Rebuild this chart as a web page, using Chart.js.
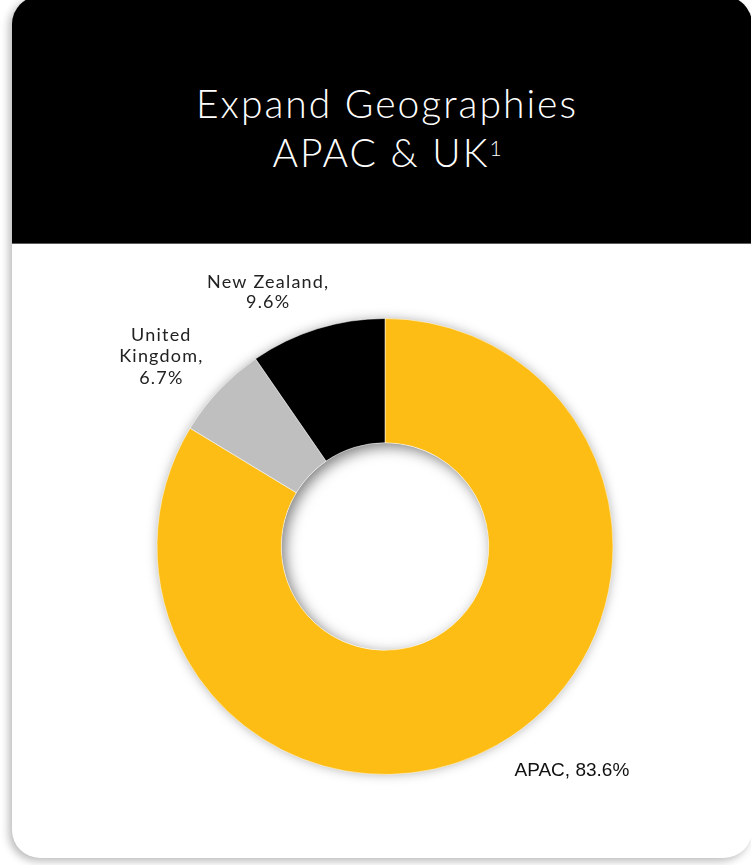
<!DOCTYPE html>
<html>
<head>
<meta charset="utf-8">
<script src="https://cdn.jsdelivr.net/npm/chart.js@4.4.1/dist/chart.umd.min.js"></script>
<style>
  html, body { margin: 0; padding: 0; background: #fff; overflow: hidden; }
  body { width: 751px; height: 865px; position: relative; }
  .carte {
    position: absolute; left: 12px; top: -4px; width: 740px; height: 862px;
    background: #fff; border-radius: 28px; overflow: hidden;
    box-shadow: -3px 3px 9px rgba(0,0,0,0.28);
  }
  .entete {
    position: absolute; left: 0; top: 0; width: 100%; height: 247px;
    background: #000; border-bottom: 1px solid #5a5a5a;
  }
  .titre {
    position: absolute; left: 10px; right: 0; top: 83px;
    color: #fff; text-align: center;
    font-family: "Lato", sans-serif; font-weight: 300; font-size: 39px;
    line-height: 49px; letter-spacing: 2px;
  }
  .titre .exp { font-size: 21px; position: relative; top: -11px; line-height: 0; letter-spacing: 0; }
  #graphique-geo { position: absolute; left: 0; top: 248px; }
</style>
</head>
<body>
<div class="carte">
  <div class="entete">
    <div class="titre">Expand Geographies<br>APAC &amp; UK<span class="exp">1</span></div>
  </div>
  <canvas id="graphique-geo" width="740" height="614"></canvas>
</div>
<script>
const categories = ["APAC", "United Kingdom", "New Zealand"];
const parts = [83.6, 6.7, 9.6];
const couleurs = ["#FDBD14", "#BFBFBF", "#000000"];

// placement des étiquettes autour de l'anneau
const etiquettes = [
  { dx: 2, dy: -2.5, align: "left", police: "19px 'Liberation Sans', Arial, sans-serif", couleur: "#111", interligne: 21, spacing: "0px" },
  { dx: -34.5, dy: -11.8, align: "center", police: "18px Lato, sans-serif", couleur: "#222", interligne: 21.5, spacing: "1.2px" },
  { dx: -39.5, dy: -5.8, align: "center", police: "18px Lato, sans-serif", couleur: "#222", interligne: 20, spacing: "1.2px" }
];

function lignesEtiquette(i) {
  const nom = categories[i], val = parts[i].toFixed(1) + "%";
  if (i === 0) return [nom + ", " + val];
  const mots = nom.split(" ");
  if (mots.length > 1 && nom.length > 12) return [...mots.slice(0, -1), mots[mots.length - 1] + ",", val];
  return [nom + ",", val];
}

const ombreAnneau = {
  id: "ombreAnneau",
  beforeDatasetsDraw(chart) {
    const arc = chart.getDatasetMeta(0).data[0];
    if (!arc) return;
    const ctx = chart.ctx;
    const { x, y, outerRadius, innerRadius } = arc.getProps(["x", "y", "outerRadius", "innerRadius"], true);
    // ombre portée autour de l'anneau
    ctx.save();
    ctx.shadowColor = "rgba(0,0,0,0.35)";
    ctx.shadowBlur = 12;
    ctx.fillStyle = "#fff";
    ctx.beginPath();
    ctx.arc(x, y, outerRadius - 1, 0, Math.PI * 2);
    ctx.fill();
    ctx.restore();
    // ombre intérieure du trou
    ctx.save();
    ctx.beginPath();
    ctx.arc(x, y, innerRadius, 0, Math.PI * 2);
    ctx.clip();
    ctx.shadowColor = "rgba(0,0,0,0.5)";
    ctx.shadowBlur = 14;
    ctx.shadowOffsetX = 4;
    ctx.shadowOffsetY = 4;
    ctx.fillStyle = "#fff";
    ctx.beginPath();
    ctx.arc(x, y, innerRadius + 40, 0, Math.PI * 2);
    ctx.arc(x, y, innerRadius, 0, Math.PI * 2, true);
    ctx.fill();
    ctx.restore();
  }
};

const etiquettesAnneau = {
  id: "etiquettesAnneau",
  afterDatasetsDraw(chart) {
    const ctx = chart.ctx;
    chart.getDatasetMeta(0).data.forEach((arc, i) => {
      const p = arc.getProps(["x", "y", "startAngle", "endAngle", "outerRadius"], true);
      const mid = (p.startAngle + p.endAngle) / 2;
      const r = p.outerRadius + 32;
      const cfg = etiquettes[i];
      const cx = p.x + Math.cos(mid) * r + cfg.dx;
      const cy = p.y + Math.sin(mid) * r + cfg.dy;
      const lignes = lignesEtiquette(i);
      ctx.save();
      ctx.font = cfg.police;
      ctx.fillStyle = cfg.couleur;
      ctx.textAlign = cfg.align;
      ctx.textBaseline = "middle";
      ctx.letterSpacing = cfg.spacing;
      const haut = cy - (lignes.length - 1) * cfg.interligne / 2;
      lignes.forEach((l, k) => ctx.fillText(l, cx, haut + k * cfg.interligne));
      ctx.restore();
    });
  }
};

new Chart(document.querySelector("#graphique-geo"), {
  type: "doughnut",
  data: {
    labels: categories,
    datasets: [{
      data: parts,
      backgroundColor: couleurs,
      borderColor: "rgba(255,255,255,0.5)",
      borderWidth: 1
    }]
  },
  options: {
    responsive: false,
    animation: false,
    cutout: "45.5%",
    layout: { padding: { left: 144.5, right: 138.5, top: 74, bottom: 83 } },
    plugins: { legend: { display: false }, tooltip: { enabled: false } }
  },
  plugins: [ombreAnneau, etiquettesAnneau]
});
</script>
</body>
</html>
